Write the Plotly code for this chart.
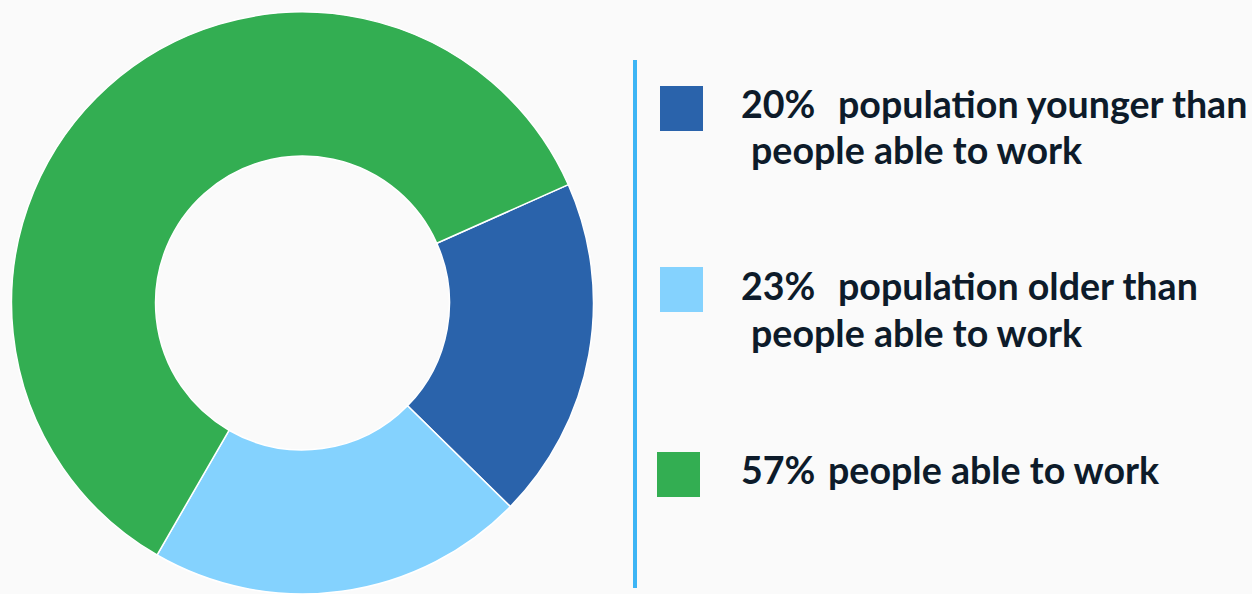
import plotly.graph_objects as go

W, H = 1252, 594

categories = ["population younger than people able to work",
              "population older than people able to work",
              "people able to work"]
percent_labels = ["20%", "23%", "57%"]
# slice sizes as drawn in the picture
slice_values = [19, 21, 60]
colors = ["#2A63AB", "#84D2FE", "#33AE52"]
legend_lines = [["population younger than", "people able to work"],
                ["population older than", "people able to work"],
                ["people able to work"]]

fig = go.Figure()
fig.add_trace(go.Pie(
    labels=categories, values=slice_values, hole=0.505,
    sort=False, direction="clockwise", rotation=66,
    marker=dict(colors=colors, line=dict(color="white", width=1.5)),
    textinfo="none", hoverinfo="label+percent",
    domain=dict(x=[0, 605 / W], y=[0, 1 - 12 / H]),
    showlegend=False,
))

def px(x):
    return x / W

def py(y):
    return 1 - y / H

shapes = [dict(type="line", xref="paper", yref="paper",
               x0=px(635), x1=px(635), y0=py(60), y1=py(588),
               line=dict(color="#3DB5F5", width=4))]
sq = [(660, 86), (660, 267), (657, 452)]
for (x, y), c in zip(sq, colors):
    shapes.append(dict(type="rect", xref="paper", yref="paper",
                       x0=px(x), x1=px(x + 43), y0=py(y), y1=py(y + 45),
                       fillcolor=c, line=dict(width=0)))

font = dict(family="Lato", size=37.6, color="#0D1B2A")
ann = []
rows = [(103, 838), (286, 838), (470, 828)]
for i, ((yc, xt), pct, lines) in enumerate(zip(rows, percent_labels, legend_lines)):
    ann.append(dict(x=px(739), y=py(yc), xref="paper", yref="paper",
                    text="<b>%s</b>" % pct, showarrow=False,
                    xanchor="left", yanchor="middle", font=font))
    ann.append(dict(x=px(xt - 2), y=py(yc), xref="paper", yref="paper",
                    text="<b>%s</b>" % lines[0], showarrow=False,
                    xanchor="left", yanchor="middle", font=font))
    if len(lines) > 1:
        ann.append(dict(x=px(749), y=py(yc + 46), xref="paper", yref="paper",
                        text="<b>%s</b>" % lines[1], showarrow=False,
                        xanchor="left", yanchor="middle", font=font))

fig.update_layout(
    width=W, height=H, margin=dict(l=0, r=0, t=0, b=0),
    paper_bgcolor="#FAFAFA", plot_bgcolor="#FAFAFA",
    shapes=shapes, annotations=ann,
)
fig.write_html("out.html", config={"displayModeBar": False},
               post_script="document.body.style.margin='0';"
                           "document.body.style.overflow='hidden';")
